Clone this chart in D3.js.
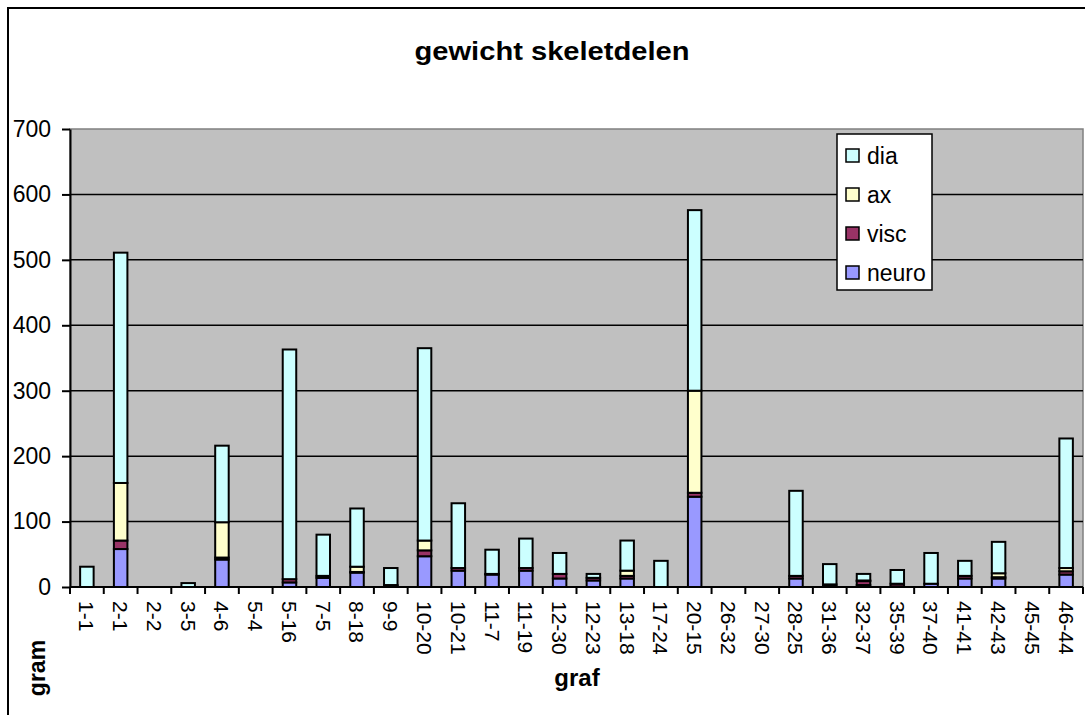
<!DOCTYPE html>
<html>
<head>
<meta charset="utf-8">
<script src="https://cdn.jsdelivr.net/npm/d3@7"></script>
<style>
  body { margin: 0; background: #fff; }
  text { font-family: "Liberation Sans", Arial, sans-serif; fill: #000; }
</style>
</head>
<body>
<svg width="1085" height="715"></svg>
<script>
// graven (x-as)
var graven = ["1-1", "2-1", "2-2", "3-5", "4-6", "5-4", "5-16", "7-5", "8-18", "9-9",
              "10-20", "10-21", "11-7", "11-19", "12-30", "12-23", "13-18", "17-24", "20-15", "26-32",
              "27-30", "28-25", "31-36", "32-37", "35-39", "37-40", "41-41", "42-43", "45-45", "46-44"];

// gewicht per skeletdeel (gram), geschat uit de grafiek
var neuro = [0, 58, 0, 0, 42, 0, 7, 14, 22, 1, 47, 25, 19, 25, 13, 10, 13, 0, 138, 0, 0, 13, 1, 3, 1, 5, 13, 13, 0, 19];
var visc  = [0, 13, 0, 0, 3, 0, 5, 3, 1, 2, 9, 4, 1, 4, 7, 4, 4, 0, 6, 0, 0, 4, 3, 6, 4, 0, 4, 2, 0, 5];
var ax    = [0, 88, 0, 0, 54, 0, 0, 0, 8, 0, 15, 0, 0, 0, 0, 0, 8, 0, 156, 0, 0, 0, 0, 1, 0, 0, 0, 6, 0, 5];
var dia   = [31, 352, 0, 6, 117, 0, 351, 63, 89, 26, 294, 99, 37, 45, 32, 6, 46, 40, 276, 0, 0, 130, 31, 10, 21, 47, 23, 48, 0, 198];

var seriesNames = ["neuro", "visc", "ax", "dia"];
var seriesColors = ["#9999ff", "#993366", "#ffffcc", "#ccffff"];
var yTicks = [0, 100, 200, 300, 400, 500, 600, 700];

var svg = d3.select("svg");

// rand om de hele grafiek
svg.append("rect")
    .attr("x", 8).attr("y", 8)
    .attr("width", 1090).attr("height", 720)
    .attr("fill", "#fff")
    .attr("stroke", "#000")
    .attr("stroke-width", 2);

var plotLeft = 70, plotRight = 1083, plotTop = 129, plotBottom = 587;

var x = d3.scaleBand()
    .domain(graven)
    .range([plotLeft, plotRight])
    .paddingInner(0.6)
    .paddingOuter(0.3);

var y = d3.scaleLinear()
    .domain([0, 700])
    .range([plotBottom, plotTop]);

// plot gebied
svg.append("rect")
    .attr("x", plotLeft).attr("y", plotTop)
    .attr("width", plotRight - plotLeft).attr("height", plotBottom - plotTop)
    .attr("fill", "#c0c0c0")
    .attr("stroke", "#808080")
    .attr("stroke-width", 1.5);

// rasterlijnen
svg.append("g")
    .selectAll("line")
    .data(yTicks.filter(d => d > 0 && d < 700))
    .join("line")
    .attr("x1", plotLeft).attr("x2", plotRight)
    .attr("y1", d => y(d)).attr("y2", d => y(d))
    .attr("stroke", "#000")
    .attr("stroke-width", 1.5);

// data stapelen
var rows = graven.map((g, i) => ({graf: g, neuro: neuro[i], visc: visc[i], ax: ax[i], dia: dia[i]}));
var stacked = d3.stack().keys(seriesNames)(rows);

svg.append("g")
    .selectAll("g")
    .data(stacked)
    .join("g")
    .attr("fill", (d, i) => seriesColors[i])
    .selectAll("rect")
    .data(d => d.filter(p => p[1] - p[0] > 0))
    .join("rect")
    .attr("x", d => x(d.data.graf))
    .attr("width", x.bandwidth())
    .attr("y", d => y(d[1]))
    .attr("height", d => y(d[0]) - y(d[1]))
    .attr("stroke", "#000")
    .attr("stroke-width", 2);

// y-as
var yAxis = svg.append("g")
    .attr("transform", "translate(" + plotLeft + ",0)")
    .call(d3.axisLeft(y).tickValues(yTicks).tickSize(8).tickPadding(11).tickSizeOuter(0));
yAxis.select(".domain").attr("stroke", "#000").attr("stroke-width", 2);
yAxis.selectAll(".tick line").attr("stroke", "#000").attr("stroke-width", 2);
yAxis.selectAll("text")
    .style("font-family", "'Liberation Sans', Arial, sans-serif")
    .style("font-size", "23px");

// x-as
var xAxis = svg.append("g")
    .attr("transform", "translate(0," + plotBottom + ")");
xAxis.append("line")
    .attr("x1", plotLeft).attr("x2", plotRight)
    .attr("stroke", "#000").attr("stroke-width", 2);
var step = x.step();
xAxis.selectAll(".tk")
    .data(d3.range(graven.length + 1))
    .join("line")
    .attr("class", "tk")
    .attr("x1", i => plotLeft + i * step).attr("x2", i => plotLeft + i * step)
    .attr("y1", 0).attr("y2", 7)
    .attr("stroke", "#000").attr("stroke-width", 2);
xAxis.selectAll(".lbl")
    .data(graven)
    .join("text")
    .attr("class", "lbl")
    .attr("transform", d => "translate(" + (x(d) + x.bandwidth() / 2) + ",14) rotate(90)")
    .attr("dy", "0.36em")
    .style("font-size", "21px")
    .text(d => d);

// titels
svg.append("text")
    .attr("x", 552).attr("y", 60)
    .attr("text-anchor", "middle")
    .attr("textLength", 275)
    .attr("lengthAdjust", "spacingAndGlyphs")
    .style("font-size", "25px").style("font-weight", "bold")
    .text("gewicht skeletdelen");

svg.append("text")
    .attr("x", 577).attr("y", 686)
    .attr("text-anchor", "middle")
    .style("font-size", "24px").style("font-weight", "bold")
    .text("graf");

svg.append("text")
    .attr("transform", "translate(45,668) rotate(-90)")
    .attr("text-anchor", "middle")
    .style("font-size", "23px").style("font-weight", "bold")
    .text("gram");

// legenda
var legend = svg.append("g").attr("transform", "translate(837,134)");
legend.append("rect")
    .attr("width", 95).attr("height", 156)
    .attr("fill", "#fff").attr("stroke", "#000").attr("stroke-width", 1.5);
var order = seriesNames.slice().reverse();
var item = legend.selectAll(".item")
    .data(order)
    .join("g")
    .attr("class", "item")
    .attr("transform", (d, i) => "translate(0," + (22 + i * 39) + ")");
item.append("rect")
    .attr("x", 9).attr("y", -7)
    .attr("width", 13).attr("height", 13)
    .attr("fill", d => seriesColors[seriesNames.indexOf(d)])
    .attr("stroke", "#000").attr("stroke-width", 1.5);
item.append("text")
    .attr("x", 30).attr("dy", "0.36em")
    .style("font-size", "23px")
    .text(d => d);
</script>
</body>
</html>
